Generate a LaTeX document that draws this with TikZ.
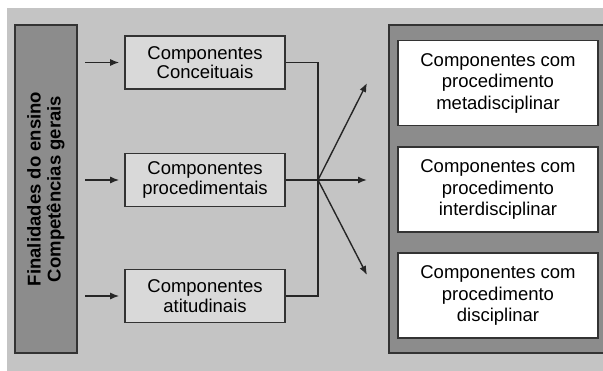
\documentclass[tikz,border=0pt]{standalone}
\usepackage{fontspec}
\setmainfont{Liberation Sans}
\usetikzlibrary{arrows.meta,calc,positioning}
\definecolor{bggray}{gray}{0.77}
\definecolor{bargray}{gray}{0.55}
\definecolor{boxgray}{gray}{0.85}
\definecolor{framegray}{gray}{0.2}

\begin{document}
\begin{tikzpicture}[x=1pt,y=-1pt,
    compbox/.style={draw=framegray, line width=1.6pt, fill=boxgray,
      minimum width=160pt, minimum height=53pt, inner sep=0pt,
      align=center, font=\fontsize{18.5}{19.5}\selectfont},
    procbox/.style={draw=framegray, line width=1.6pt, fill=white,
      minimum width=200pt, minimum height=85pt, inner sep=0pt,
      align=center, font=\fontsize{18.5}{21.5}\selectfont},
    link/.style={line width=1.4pt, draw=black!85},
    arr/.style={link, -{Latex[length=9pt,width=7pt]}}]
        % Frame
        \useasboundingbox (0,0) rectangle (603,370);
        \clip (0,0) rectangle (603,370);
        \fill[bggray] (7,8) rectangle (610,375);
        % Left bar
        \node[draw=framegray, line width=1.6pt, fill=bargray, rotate=90,
          minimum width=328pt, minimum height=62pt, align=center,
          font=\bfseries\fontsize{18.5}{20}\selectfont] (goal) at (46,189)
          {Finalidades do ensino\\Competências gerais};
        % Middle boxes
        \node[compbox] (conc) at (205,62.5) {Componentes\\Conceituais};
        \node[compbox] (proc) at (205,180) {Componentes\\procedimentais};
        \node[compbox] (atit) at (205,296) {Componentes\\atitudinais};
        % Right container
        \filldraw[fill=bargray, draw=framegray, line width=1.6pt]
          (612,25) -- (389,25) -- (389,353) -- (612,353);
        \node[procbox] (meta) at (498,83) {Componentes com\\procedimento\\metadisciplinar};
        \node[procbox] (inter) at (498,189.5) {Componentes com\\procedimento\\interdisciplinar};
        \node[procbox] (disc) at (498,295.5) {Componentes com\\procedimento\\disciplinar};
        % Inputs
        \coordinate (in1) at (85,62.5);
        \coordinate (in2) at (85,180);
        \coordinate (in3) at (85,296);
        \draw[arr, shorten >=5pt] (in1) -- (conc.west);
        \draw[arr, shorten >=5pt] (in2) -- (proc.west);
        \draw[arr, shorten >=5pt] (in3) -- (atit.west);
        % Fan out
        \coordinate (hub) at (318,180);
        \coordinate (up) at (367,83);
        \coordinate (mid) at (367,180);
        \coordinate (down) at (367,275);
        \draw[link] (conc.east) -| (hub) |- (atit.east);
        \draw[link] (proc.east) -- (hub);
        \draw[arr] (hub) -- (up);
        \draw[arr] (hub) -- (mid);
        \draw[arr] (hub) -- (down);
      \end{tikzpicture}
\end{document}
